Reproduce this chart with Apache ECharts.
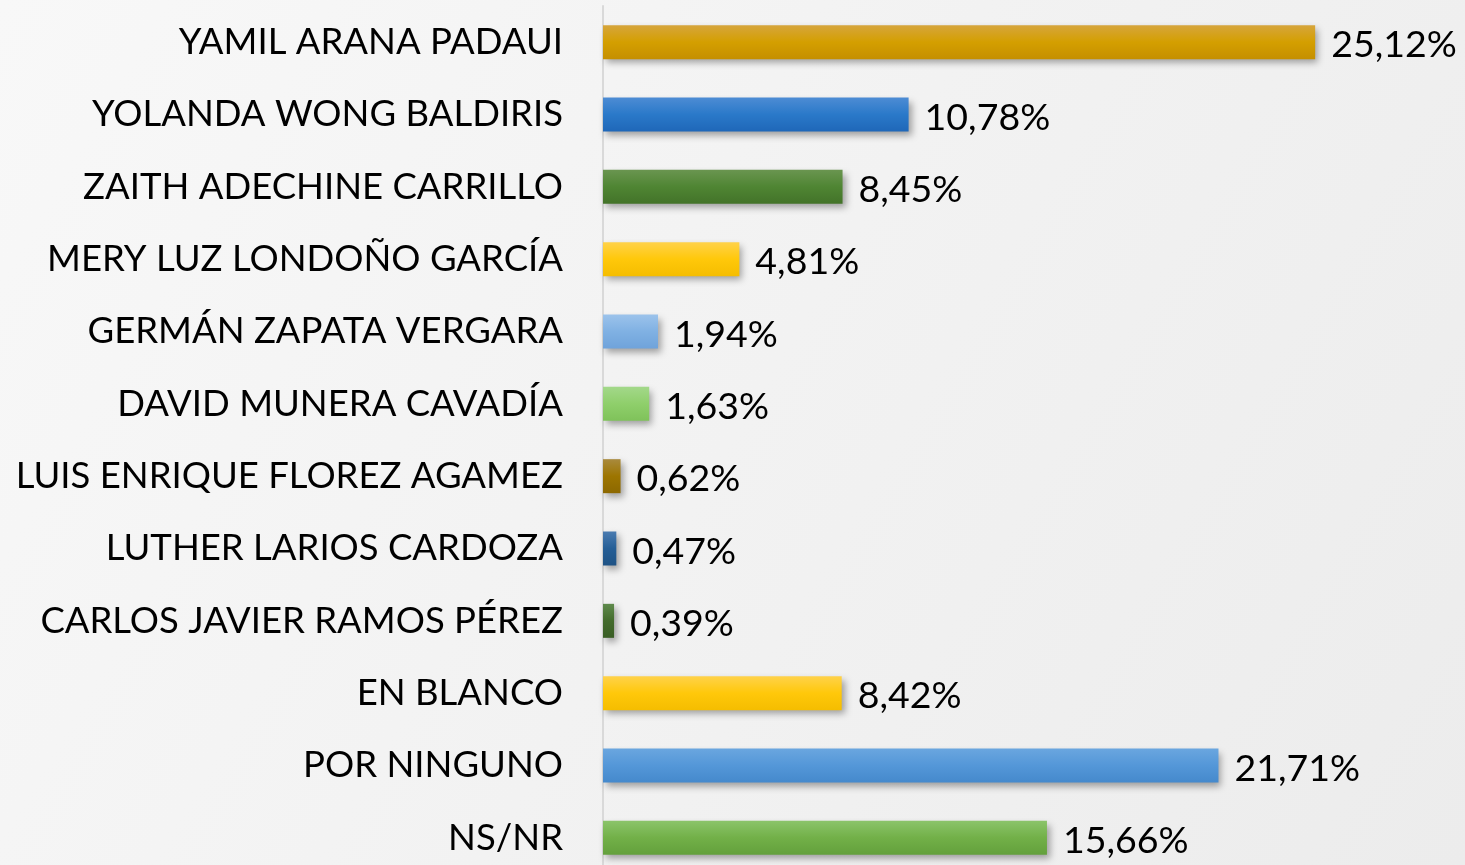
<!DOCTYPE html>
<html>
<head>
<meta charset="utf-8">
<script src="https://cdn.jsdelivr.net/npm/echarts@6/dist/echarts.min.js"></script>
<style>
html,body{margin:0;padding:0;width:1465px;height:865px;overflow:hidden;}
#c{width:1465px;height:865px;}
</style>
</head>
<body>
<div id="c"></div>
<script>
const categories = [
  "YAMIL ARANA PADAUI",
  "YOLANDA WONG BALDIRIS",
  "ZAITH ADECHINE CARRILLO",
  "MERY LUZ LONDOÑO GARCÍA",
  "GERMÁN ZAPATA VERGARA",
  "DAVID MUNERA CAVADÍA",
  "LUIS ENRIQUE FLOREZ AGAMEZ",
  "LUTHER LARIOS CARDOZA",
  "CARLOS JAVIER RAMOS PÉREZ",
  "EN BLANCO",
  "POR NINGUNO",
  "NS/NR"
];
const values = [25.12, 10.78, 8.45, 4.81, 1.94, 1.63, 0.62, 0.47, 0.39, 8.42, 21.71, 15.66];
const barColors = [
  ["#d6a53c", "#d49f00", "#c58f00"],
  ["#4d8cd4", "#2a79c9", "#1f67b8"],
  ["#6a9550", "#4f8533", "#437329"],
  ["#ffd24a", "#ffc80a", "#f5bd00"],
  ["#9cc3eb", "#80b1e3", "#6fa3db"],
  ["#a3d88a", "#8fcf6b", "#7fc25a"],
  ["#a98a3d", "#9d7500", "#8c6800"],
  ["#4a7bb0", "#255e96", "#1f5385"],
  ["#5f8a4c", "#436b2c", "#3a5e25"],
  ["#ffd24a", "#ffc80a", "#f5bd00"],
  ["#6aa6df", "#5497d8", "#4589cc"],
  ["#8bc46a", "#72b048", "#63a03c"]
];

const chart = echarts.init(document.getElementById('c'), null, {renderer: 'canvas'});
const fmt = v => v.toFixed(2).replace('.', ',') + '%';

const data = values.map((v, i) => ({
  value: v,
  itemStyle: {
    color: new echarts.graphic.LinearGradient(0, 0, 0, 1, [
      {offset: 0, color: barColors[i][0]},
      {offset: 0.5, color: barColors[i][1]},
      {offset: 1, color: barColors[i][2]}
    ])
  }
}));

chart.setOption({
  backgroundColor: new echarts.graphic.LinearGradient(0, 0, 1, 1, [
    {offset: 0, color: '#f8f8f8'},
    {offset: 1, color: '#ececec'}
  ]),
  animation: false,
  grid: {left: 603, top: 6, width: 850.5, height: 868, containLabel: false, outerBoundsMode: 'none'},
  xAxis: {
    type: 'value', min: 0, max: 30, show: false
  },
  yAxis: {
    type: 'category',
    data: categories,
    inverse: true,
    axisLine: {show: true, lineStyle: {color: '#d9d9d9', width: 2}},
    axisTick: {show: false},
    axisLabel: {
      color: '#000', fontFamily: 'Lato', fontSize: 36.5, margin: 40
    }
  },
  series: [{
    type: 'bar',
    data: data,
    barWidth: 34,
    itemStyle: {
      shadowBlur: 7, shadowOffsetX: 3, shadowOffsetY: 4, shadowColor: 'rgba(0,0,0,0.35)'
    },
    label: {
      show: true, position: 'right', distance: 16, offset: [0, 3],
      color: '#000', fontFamily: 'Lato', fontSize: 37.5,
      formatter: p => fmt(p.value)
    }
  }]
});
</script>
</body>
</html>
